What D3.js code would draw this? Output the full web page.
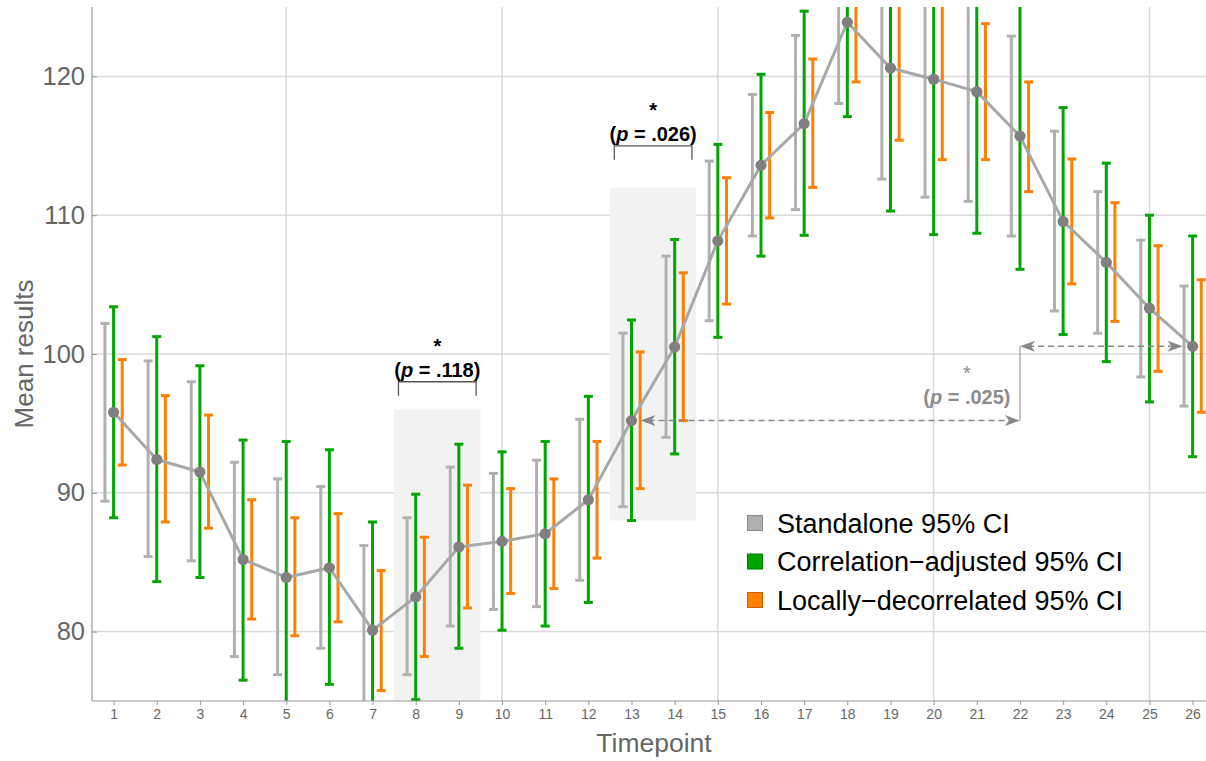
<!DOCTYPE html>
<html>
<head>
<meta charset="utf-8">
<script src="https://cdn.jsdelivr.net/npm/d3@7/dist/d3.min.js"></script>
<style>
  html, body { margin: 0; padding: 0; background: #ffffff; }
  svg { display: block; font-family: "Liberation Sans", Arial, sans-serif; }
</style>
</head>
<body>
<svg id="chart" width="1206" height="761"></svg>
<script>
// Timepoints and mean results
const timepoints = [1, 2, 3, 4, 5, 6, 7, 8, 9, 10, 11, 12, 13, 14, 15, 16, 17, 18, 19, 20, 21, 22, 23, 24, 25, 26];
const means = [95.8, 92.4, 91.5, 85.2, 83.9, 84.6, 80.1, 82.5, 86.1, 86.5, 87.05, 89.5, 95.2, 100.5,
  108.15, 113.6, 116.6, 123.9, 120.6, 119.8, 118.9, 115.7, 109.55, 106.6, 103.3, 100.55];

// Standalone 95% CI
const standaloneLo = [89.4, 85.4, 85.1, 78.2, 76.9, 78.8, 74.0, 76.9, 80.4, 81.6, 81.8, 83.7, 89.0, 94.0,
  102.4, 108.5, 110.4, 118.05, 112.6, 111.3, 111.0, 108.5, 103.1, 101.5, 98.35, 96.25];
const standaloneHi = [102.2, 99.5, 98.0, 92.2, 91.0, 90.45, 86.2, 88.2, 91.85, 91.4, 92.35, 95.3, 101.5, 107.05,
  113.9, 118.7, 122.95, 129.75, 128.6, 128.3, 126.8, 122.9, 116.05, 111.7, 108.2, 104.9];

// Correlation-adjusted 95% CI
const corrLo = [88.2, 83.6, 83.9, 76.5, 74.1, 76.2, 72.3, 75.1, 78.8, 80.1, 80.4, 82.1, 88.0, 92.8,
  101.2, 107.05, 108.55, 117.1, 110.3, 108.6, 108.7, 106.1, 101.4, 99.45, 96.55, 92.6];
const corrHi = [103.4, 101.25, 99.15, 93.8, 93.7, 93.1, 87.9, 89.9, 93.5, 92.95, 93.7, 96.95, 102.45, 108.25,
  115.1, 120.15, 124.7, 130.7, 130.9, 131.0, 129.1, 125.3, 117.75, 113.75, 110.0, 108.5];

// Locally-decorrelated 95% CI
const decorLo = [92.0, 87.9, 87.45, 80.9, 79.7, 80.7, 75.75, 78.2, 81.7, 82.75, 83.1, 85.3, 90.3, 95.2,
  103.6, 109.8, 112.0, 119.6, 115.4, 114.0, 114.0, 111.7, 105.05, 102.35, 98.75, 95.8];
const decorHi = [99.6, 97.0, 95.6, 89.5, 88.2, 88.5, 84.4, 86.8, 90.55, 90.3, 91.0, 93.7, 100.15, 105.85,
  112.7, 117.4, 121.25, 128.2, 125.8, 125.6, 123.8, 119.6, 114.05, 110.9, 107.8, 105.35];

const seriesNames = ["Standalone 95% CI", "Correlation\u2212adjusted 95% CI", "Locally\u2212decorrelated 95% CI"];
const seriesColors = ["#b0b0b0", "#00a600", "#ff8000"];
const seriesBorders = ["#8a8a8a", "#007a00", "#c86400"];
const seriesOffsets = [-0.2, 0, 0.2];

const yTicks = [80, 90, 100, 110, 120];
const xGrid = [5, 10, 15, 20, 25];

// Highlighted timepoint windows and their comparisons
const bands = [{ x0: 7.5, x1: 9.5, y0: 75, y1: 96 }, { x0: 12.5, x1: 14.5, y0: 88, y1: 112 }];
const brackets = [
  { x0: 7.6, x1: 9.4, y: 98.0, yEnd: 97.0, label: ".118" },
  { x0: 12.6, x1: 14.4, y: 115.0, yEnd: 114.0, label: ".026" }
];
const farComparison = { from: 13, to: 26, turn: 22, labelX: 20.77, label: ".025" };

// Layout
const W = 1206, H = 761;
const plot = { left: 92, top: 7, bottom: 701, right: 1214.2 };

const x = d3.scaleLinear().domain([0.5, 26.5]).range([plot.left, plot.right]);
const y = d3.scaleLinear().domain([75, 125]).range([plot.bottom, plot.top]);

const svg = d3.select("#chart");

svg.append("defs").append("clipPath").attr("id", "plotClip")
  .append("rect")
  .attr("x", plot.left).attr("y", plot.top)
  .attr("width", W - plot.left).attr("height", plot.bottom - plot.top);

// Grid
const grid = svg.append("g");
grid.selectAll("line.h").data(yTicks).join("line")
  .attr("x1", plot.left).attr("x2", W)
  .attr("y1", d => y(d)).attr("y2", d => y(d))
  .attr("stroke", "#dadada").attr("stroke-width", 1.5);
grid.selectAll("line.v").data(xGrid).join("line")
  .attr("x1", d => x(d)).attr("x2", d => x(d))
  .attr("y1", plot.top).attr("y2", plot.bottom)
  .attr("stroke", "#dadada").attr("stroke-width", 1.5);

// Shaded windows
svg.append("g").selectAll("rect").data(bands).join("rect")
  .attr("x", d => x(d.x0)).attr("width", d => x(d.x1) - x(d.x0))
  .attr("y", d => y(d.y1)).attr("height", d => y(d.y0) - y(d.y1))
  .attr("fill", "#f2f2f2");

// Error bars
const bars = svg.append("g").attr("clip-path", "url(#plotClip)");
const intervals = [
  [standaloneLo, standaloneHi],
  [corrLo, corrHi],
  [decorLo, decorHi]
];
const capHalf = 4.5;
intervals.forEach(([lo, hi], s) => {
  const rows = timepoints.map((t, i) => ({ t, lo: lo[i], hi: hi[i] }));
  const g = bars.append("g")
    .attr("stroke", seriesColors[s]).attr("stroke-width", 3).attr("fill", "none");
  g.selectAll("line.stem").data(rows).join("line")
    .attr("x1", d => x(d.t + seriesOffsets[s])).attr("x2", d => x(d.t + seriesOffsets[s]))
    .attr("y1", d => y(d.lo)).attr("y2", d => y(d.hi));
  g.selectAll("line.capHi").data(rows).join("line")
    .attr("x1", d => x(d.t + seriesOffsets[s]) - capHalf).attr("x2", d => x(d.t + seriesOffsets[s]) + capHalf)
    .attr("y1", d => y(d.hi)).attr("y2", d => y(d.hi));
  g.selectAll("line.capLo").data(rows).join("line")
    .attr("x1", d => x(d.t + seriesOffsets[s]) - capHalf).attr("x2", d => x(d.t + seriesOffsets[s]) + capHalf)
    .attr("y1", d => y(d.lo)).attr("y2", d => y(d.lo));
});

// Mean line and points
const meanRows = timepoints.map((t, i) => ({ t, v: means[i] }));
bars.append("path").datum(meanRows)
  .attr("d", d3.line().x(d => x(d.t)).y(d => y(d.v)))
  .attr("fill", "none").attr("stroke", "#a8a8a8").attr("stroke-width", 3)
  .attr("stroke-linejoin", "round");
bars.append("g").selectAll("circle").data(meanRows).join("circle")
  .attr("cx", d => x(d.t)).attr("cy", d => y(d.v)).attr("r", 5.6)
  .attr("fill", "#808080");

// Axes
const xAxis = svg.append("g").attr("transform", `translate(0,${plot.bottom})`)
  .call(d3.axisBottom(x).tickValues(timepoints).tickFormat(d3.format("d")).tickSize(4).tickPadding(4));
xAxis.select(".domain").attr("stroke", "#999").attr("stroke-width", 1.2)
  .attr("d", `M${plot.left},0H${W}`);
xAxis.selectAll(".tick line").attr("stroke", "#999");
xAxis.selectAll(".tick text").attr("fill", "#666").attr("font-size", 14)
  .attr("font-family", "'Liberation Sans', Arial, sans-serif");

const yAxis = svg.append("g").attr("transform", `translate(${plot.left},0)`)
  .call(d3.axisLeft(y).tickValues(yTicks).tickSize(-5).tickPadding(7));
yAxis.select(".domain").attr("stroke", "#999").attr("stroke-width", 1.2)
  .attr("d", `M0,${plot.top}V${plot.bottom}`);
yAxis.selectAll(".tick line").attr("stroke", "#999");
yAxis.selectAll(".tick text").attr("fill", "#666").attr("font-size", 25.5)
  .attr("font-family", "'Liberation Sans', Arial, sans-serif");

// Axis titles
svg.append("text").attr("x", 654).attr("y", 752).attr("text-anchor", "middle")
  .attr("font-size", 26.5).attr("fill", "#666").text("Timepoint");
svg.append("text").attr("transform", "translate(33,354) rotate(-90)").attr("text-anchor", "middle")
  .attr("font-size", 26).attr("fill", "#666").text("Mean results");

// Significance brackets
function pLabel(sel, value) {
  sel.append("tspan").text("(");
  sel.append("tspan").attr("font-style", "italic").text("p");
  sel.append("tspan").text(" = " + value + ")");
}
const br = svg.append("g");
brackets.forEach(b => {
  const ly = y(b.y), ey = y(b.yEnd);
  br.append("path")
    .attr("d", `M${x(b.x0)},${ey}V${ly}H${x(b.x1)}V${ey}`)
    .attr("fill", "none").attr("stroke", "#555").attr("stroke-width", 1.3);
  const cx = (x(b.x0) + x(b.x1)) / 2;
  br.append("text").attr("x", cx).attr("y", ly - 5).attr("text-anchor", "middle")
    .attr("font-size", 20).attr("font-weight", "bold").attr("fill", "#000")
    .call(pLabel, b.label);
  br.append("text").attr("x", cx).attr("y", ly - 29).attr("text-anchor", "middle")
    .attr("font-size", 20).attr("font-weight", "bold").attr("fill", "#000").text("*");
});

// Long-range comparison: dashed arrows between timepoint 13 and 26
const arrowColor = "#888";
const fi = timepoints.indexOf(farComparison.from), ti = timepoints.indexOf(farComparison.to);
const yFrom = y(means[fi]), yTo = y(means[ti]);
const xFrom = x(farComparison.from), xTo = x(farComparison.to), xTurn = x(farComparison.turn);
const ar = svg.append("g");
function arrowHead(tipX, tipY, dir) {
  const L = 15, Hh = 5.5, notch = 4;
  ar.append("path")
    .attr("d", `M${tipX},${tipY}L${tipX - dir * L},${tipY - Hh}L${tipX - dir * (L - notch)},${tipY}L${tipX - dir * L},${tipY + Hh}Z`)
    .attr("fill", arrowColor);
}
const gapFrom = 9, gapTo = 10;
ar.append("line").attr("x1", xFrom + gapFrom + 8).attr("x2", xTurn - 8)
  .attr("y1", yFrom).attr("y2", yFrom)
  .attr("stroke", arrowColor).attr("stroke-width", 1.5).attr("stroke-dasharray", "6,4");
ar.append("line").attr("x1", xTurn + 8).attr("x2", xTo - gapTo - 8)
  .attr("y1", yTo).attr("y2", yTo)
  .attr("stroke", arrowColor).attr("stroke-width", 1.5).attr("stroke-dasharray", "6,4");
ar.append("line").attr("x1", xTurn).attr("x2", xTurn)
  .attr("y1", yTo).attr("y2", yFrom)
  .attr("stroke", "#999").attr("stroke-width", 1.2);
arrowHead(xFrom + gapFrom, yFrom, -1);
arrowHead(xTurn, yFrom, 1);
arrowHead(xTurn, yTo, -1);
arrowHead(xTo - gapTo, yTo, 1);
ar.append("text").attr("x", x(farComparison.labelX)).attr("y", yFrom - 17).attr("text-anchor", "middle")
  .attr("font-size", 20).attr("font-weight", "bold").attr("fill", "#8c8c8c")
  .call(pLabel, farComparison.label);
ar.append("text").attr("x", x(farComparison.labelX)).attr("y", yFrom - 41).attr("text-anchor", "middle")
  .attr("font-size", 20).attr("fill", "#8c8c8c").text("*");

// Legend
const legend = svg.append("g").attr("transform", "translate(747,523)");
seriesNames.forEach((name, i) => {
  const row = legend.append("g").attr("transform", `translate(0,${i * 38.5})`);
  row.append("rect").attr("x", 0.5).attr("y", -7.5).attr("width", 15).attr("height", 15)
    .attr("fill", seriesColors[i]).attr("stroke", seriesBorders[i]).attr("stroke-width", 1);
  row.append("text").attr("x", 30).attr("y", 9.5).attr("font-size", 27).attr("fill", "#000").text(name);
});
</script>
</body>
</html>
